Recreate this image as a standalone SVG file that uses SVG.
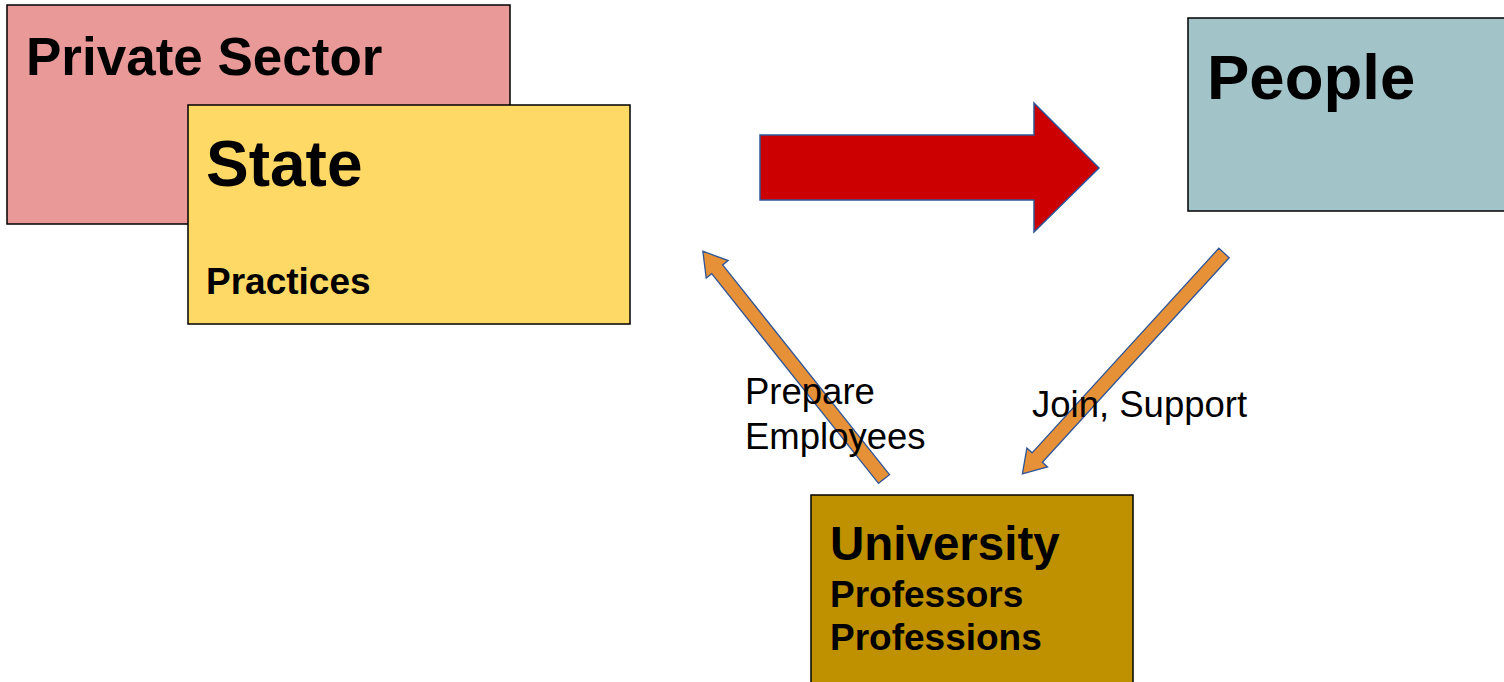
<svg xmlns="http://www.w3.org/2000/svg" width="1504" height="682" viewBox="0 0 1504 682">
<style>
.box{stroke:#000;stroke-width:1.5}
.b{font-family:"Liberation Sans",Arial,sans-serif;font-weight:bold;fill:#000}
.r{font-family:"Liberation Sans",Arial,sans-serif;fill:#000}
.oa{fill:#E69138;stroke:#2F5597;stroke-width:1.3}
</style>
<rect width="1504" height="682" fill="#fff"/>
<g id="private-sector">
<rect class="box" x="7" y="5" width="503" height="219" fill="#EA9999"/>
<text class="b" x="26" y="75" font-size="53">Private Sector</text>
</g>
<g id="state">
<rect class="box" x="188" y="105" width="442" height="219" fill="#FFD966"/>
<text class="b" x="206" y="186" font-size="64">State</text>
<text class="b" x="206" y="294" font-size="37">Practices</text>
</g>
<g id="people">
<rect class="box" x="1188" y="18" width="320" height="193" fill="#A2C4C9"/>
<text class="b" x="1207" y="99" font-size="63.5">People</text>
</g>
<g id="university">
<rect class="box" x="811" y="495" width="322" height="192" fill="#BF9000"/>
<text class="b" x="830" y="560" font-size="47.5">University</text>
<text class="b" x="830" y="607" font-size="37">Professors</text>
<text class="b" x="830" y="650" font-size="37">Professions</text>
</g>
<g id="connectors">
<path d="M760,135 L1034,135 L1034,103 L1099,168 L1034,232 L1034,200 L760,200 Z" fill="#CC0000" stroke="#2F5597" stroke-width="1.5"/>
<g transform="translate(884,479) rotate(-128.5)">
<path class="oa" d="M0,-7 L268,-7 L268,-14 L291,0 L268,14 L268,7 L0,7 Z"/>
</g>
<g transform="translate(1224,253) rotate(132.4)">
<path class="oa" d="M0,-7 L277,-7 L277,-14 L299,0 L277,14 L277,7 L0,7 Z"/>
</g>
</g>
<g id="labels">
<text class="r" x="745" y="404" font-size="36.5">Prepare</text>
<text class="r" x="745" y="449" font-size="36.5">Employees</text>
<text class="r" x="1032" y="417" font-size="36.5">Join, Support</text>
</g>
</svg>
